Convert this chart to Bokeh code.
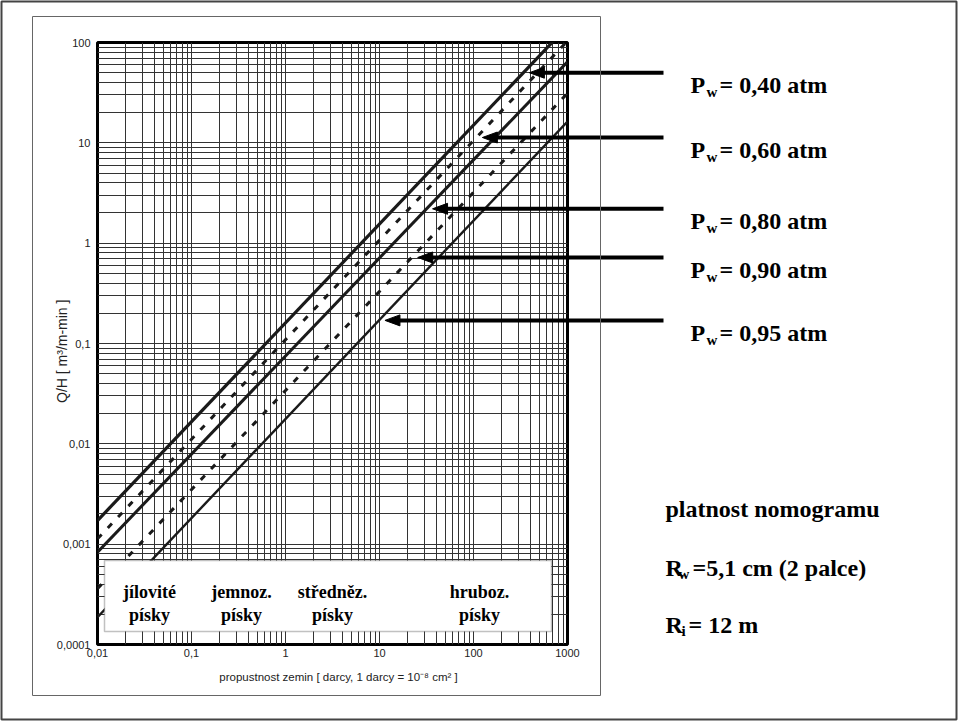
import math
from bokeh.plotting import figure
from bokeh.models import Range1d, FixedTicker, LinearScale, BoxAnnotation
from bokeh.core.properties import value
from bokeh.embed import file_html
from bokeh.resources import INLINE

# ---------------- data ----------------
k_range = [0.01, 1000]                       # propustnost [darcy] at the two line ends
pw_labels = ["0,40", "0,60", "0,80", "0,90", "0,95"]
qh_at_k_low = [0.00172, 0.00113, 0.000832, 0.00036, 0.000187]   # Q/H at k = 0.01
qh_at_k_high = [145.0, 103.5, 64.3, 31.2, 16.3]                 # Q/H at k = 1000
pw_dashed = [False, True, False, True, False]
arrow_qh = [50.0, 11.3, 2.2, 0.72, 0.17]     # Q/H level where each arrow points
x_ticks = [0.01, 0.1, 1, 10, 100, 1000]
x_tick_labels = ["0,01", "0,1", "1", "10", "100", "1000"]
y_ticks = [0.0001, 0.001, 0.01, 0.1, 1, 10, 100]
y_tick_labels = ["0,0001", "0,001", "0,01", "0,1", "1", "10", "100"]
soil_top = ["jílovité", "jemnoz.", "středněz.", "hruboz."]
soil_bottom = ["písky", "písky", "písky", "písky"]
validity_title = "platnost nomogramu"

# ---------------- layout ----------------
W, H = 960, 721
FL, FR, FT, FB = 97, 567, 42, 644
XD0, XD1 = -2, 3
YD0, YD1 = -4, 2


def x_px(k):
    return FL + (math.log10(k) - XD0) * (FR - FL) / (XD1 - XD0)


def y_px(q):
    return FB - (math.log10(q) - YD0) * (FB - FT) / (YD1 - YD0)


p = figure(width=W, height=H, x_axis_type="log", y_axis_type="log",
           x_range=Range1d(k_range[0], k_range[1]), y_range=Range1d(y_ticks[0], y_ticks[-1]),
           output_backend="svg", toolbar_location=None,
           min_border_left=FL, min_border_right=W - FR, min_border_top=FT, min_border_bottom=H - FB)
p.background_fill_color = "white"
p.border_fill_color = "white"
p.outline_line_color = "black"
p.outline_line_width = 3

# pixel-like coordinate system for the decorations around the chart
p.extra_x_ranges = {"px": Range1d(FL, FR)}
p.extra_y_ranges = {"px": Range1d(FB, FT)}
p.extra_x_scales = {"px": LinearScale()}
p.extra_y_scales = {"px": LinearScale()}
PX = dict(x_range_name="px", y_range_name="px")

minor_x = [m * 10.0 ** e for e in range(XD0, XD1) for m in range(2, 10)]
minor_y = [m * 10.0 ** e for e in range(YD0, YD1) for m in range(2, 10)]
p.xaxis.ticker = FixedTicker(ticks=x_ticks, minor_ticks=minor_x)
p.yaxis.ticker = FixedTicker(ticks=y_ticks, minor_ticks=minor_y)
p.xaxis.major_label_overrides = dict(zip(x_ticks, x_tick_labels))
p.yaxis.major_label_overrides = dict(zip(y_ticks, y_tick_labels))

for ax in (p.xaxis, p.yaxis):
    ax.axis_line_color = None
    ax.major_tick_line_color = None
    ax.minor_tick_line_color = None
    ax.major_tick_out = 0
    ax.minor_tick_out = 0
    ax.major_tick_in = 0
    ax.minor_tick_in = 0
    ax.major_label_text_font = "Liberation Sans"
    ax.major_label_text_font_size = "11px"
    ax.major_label_text_color = "#222222"
p.xaxis.major_label_standoff = 4
p.yaxis.major_label_standoff = 7

for g in (p.xgrid, p.ygrid):
    g.grid_line_color = "#333333"
    g.grid_line_width = 1
    g.minor_grid_line_color = "#333333"
    g.minor_grid_line_width = 1

# diagonal nomogram lines
widths = [3.2, 3, 3, 3, 2.4]
for i in range(len(pw_labels)):
    p.line(k_range, [qh_at_k_low[i], qh_at_k_high[i]], line_color="#1a1a1a",
           line_width=widths[i], line_dash="6 9" if pw_dashed[i] else "solid")

# soil classes box
p.add_layout(BoxAnnotation(left=104, right=551, top=560, bottom=631, fill_color="white",
                           fill_alpha=1, line_color="#333333", line_width=1.5, **PX))


def serif(xs, ys, texts, size="24px", align="left"):
    p.text(x=xs, y=ys, text=texts, text_font=value("Liberation Serif"), text_font_style="bold",
           text_font_size=size, text_align=align, text_baseline="alphabetic",
           text_color="black", level="overlay", **PX)


soil_px = [149, 241, 332, 479]
serif(soil_px, [591.5] * 4, soil_top, "18px", "center")
serif(soil_px, [614.5] * 4, soil_bottom, "18px", "center")

# arrows and Pw labels
tail = 663
head_len, head_half = 15, 5.5
for i in range(len(pw_labels)):
    q = arrow_qh[i]
    lq0, lq1 = math.log10(qh_at_k_low[i]), math.log10(qh_at_k_high[i])
    slope = (lq1 - lq0) / (XD1 - XD0)
    k_hit = 10 ** (XD0 + (math.log10(q) - lq0) / slope)
    tx = x_px(k_hit) + 6
    ay = y_px(q)
    p.segment(x0=[tx + head_len - 1], y0=[ay], x1=[tail], y1=[ay], line_width=4,
              line_color="black", level="overlay", **PX)
    p.patch(x=[tx, tx + head_len, tx + head_len], y=[ay, ay - head_half, ay + head_half],
            fill_color="black", line_color="black", line_width=1, level="overlay", **PX)
    base = ay + 12.5
    serif([690], [base], ["P"])
    serif([706], [base + 7], ["w"], "15px")
    serif([719], [base], ["= " + pw_labels[i] + " atm"])

# validity notes
serif([665], [508], [validity_title])
serif([665, 692], [567, 567], ["R", "=5,1 cm (2 palce)"])
serif([678], [573], ["w"], "15px")
serif([665, 688], [624, 624], ["R", "= 12 m"])
serif([681], [630], ["i"], "15px")

# axis titles
p.text(x=[61], y=[343], text=["Q/H   [  m³/m-min  ]"], angle=math.pi / 2, text_align="center",
       text_baseline="middle", text_font=value("Liberation Sans"), text_font_size="14px",
       text_color="#222222", level="overlay", **PX)
p.text(x=[338], y=[676], text=["propustnost zemin [ darcy, 1 darcy = 10⁻⁸ cm² ]"],
       text_align="center", text_baseline="middle", text_font=value("Liberation Sans"),
       text_font_size="11.5px", text_color="#222222", level="overlay", **PX)

# page frames
p.quad(left=[1], right=[956], top=[1], bottom=[719], fill_color=None, line_color="#444444",
       line_width=2, level="overlay", **PX)
p.quad(left=[32], right=[600], top=[16], bottom=[695], fill_color=None, line_color="#666666",
       line_width=1, level="overlay", **PX)

open("out.html", "w").write(file_html(p, INLINE))
